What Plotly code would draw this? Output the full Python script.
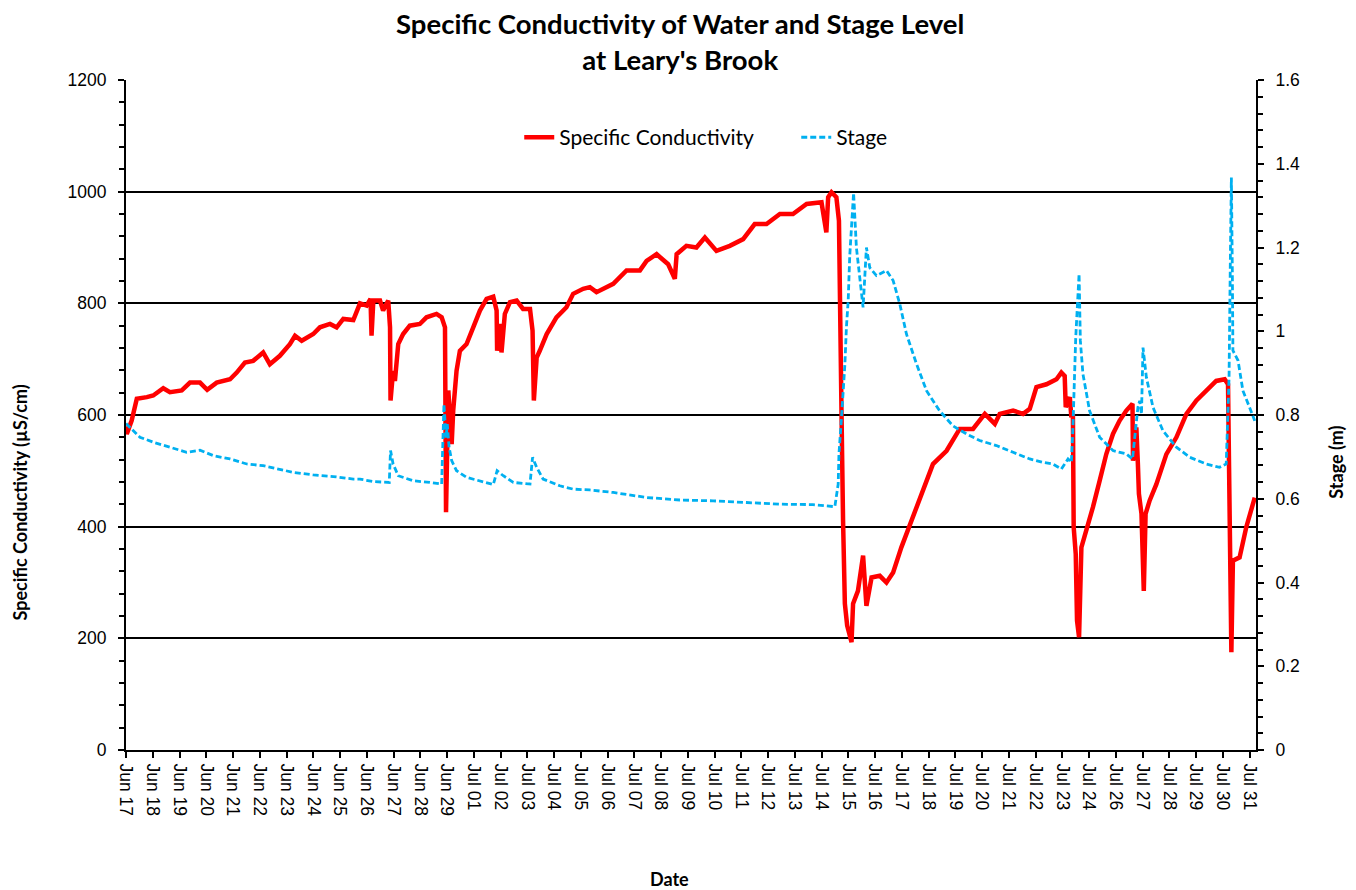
import plotly.graph_objects as go
import pandas as pd

# Time of each reading, in days after Jun 17 00:00
cond_days = [0.48, 0.51, 0.70, 0.90, 1.29, 1.54, 1.93, 2.19, 2.65, 2.97, 3.36, 3.64, 4.01, 4.53,
             4.79, 5.11, 5.43, 5.82, 6.08, 6.47, 6.86, 7.06, 7.32, 7.77, 8.03, 8.42, 8.68, 8.94,
             9.33, 9.59, 9.85, 10.00, 10.04, 10.11, 10.37, 10.49, 10.69, 10.76, 10.78, 10.88,
             10.95, 11.08, 11.27, 11.53, 11.92, 12.18, 12.57, 12.77, 12.90, 12.94, 13.03, 13.16,
             13.22, 13.35, 13.48, 13.74, 14.00, 14.26, 14.52, 14.78, 14.91, 14.93, 15.04, 15.10,
             15.23, 15.43, 15.69, 15.94, 16.21, 16.31, 16.36, 16.47, 16.59, 16.86, 17.24, 17.63,
             17.89, 18.28, 18.54, 18.80, 19.45, 19.97, 20.49, 20.75, 21.14, 21.59, 21.85, 21.92,
             22.30, 22.69, 23.02, 23.47, 23.99, 24.51, 24.96, 25.42, 25.94, 26.45, 26.98, 27.56,
             27.75, 27.82, 27.95, 28.14, 28.24, 28.27, 28.34, 28.40, 28.47, 28.56, 28.73, 28.79,
             28.98, 29.18, 29.31, 29.51, 29.83, 30.09, 30.35, 30.67, 31.00, 31.39, 31.90, 32.43,
             32.94, 33.46, 33.92, 34.31, 34.50, 35.02, 35.41, 35.67, 35.93, 36.32, 36.71, 36.90,
             37.03, 37.07, 37.23, 37.29, 37.35, 37.38, 37.46, 37.51, 37.59, 37.68, 37.88, 38.13,
             38.39, 38.65, 38.91, 39.17, 39.43, 39.67, 39.69, 39.82, 39.88, 39.92, 40.02, 40.11,
             40.18, 40.34, 40.60, 40.99, 41.38, 41.77, 42.16, 42.55, 42.93, 43.26, 43.39, 43.43,
             43.48, 43.52, 43.58, 43.84, 44.10, 44.43]
conductivity = [580, 566, 590, 629, 632, 635, 648, 641, 644, 658, 658, 645, 658, 664,
                676, 694, 697, 712, 691, 706, 727, 742, 733, 745, 757, 763, 757, 772,
                770, 800, 796, 808, 742, 805, 805, 787, 805, 757, 626, 679,
                661, 727, 745, 760, 763, 775, 781, 775, 757, 426, 644, 548,
                608, 679, 715, 727, 757, 787, 808, 812, 787, 715, 763, 712,
                781, 802, 805, 790, 790, 751, 626, 703, 715, 745, 775, 793,
                817, 826, 829, 820, 835, 859, 859, 876, 888, 870, 844, 888,
                903, 900, 918, 894, 903, 915, 942, 942, 960, 960, 978, 981,
                927, 990, 999, 990, 948, 799, 602, 411, 262, 223, 193, 262,
                285, 348, 258, 309, 312, 300, 318, 363, 402, 450, 512, 536,
                575, 575, 602, 584, 602, 608, 602, 611, 650, 655, 664, 676,
                670, 614, 632, 596, 602, 399, 351, 232, 202, 363, 393, 435,
                482, 530, 566, 590, 608, 620, 518, 578, 512, 459, 423, 285,
                423, 447, 476, 530, 560, 602, 626, 644, 661, 664, 655, 506,
                339, 175, 339, 345, 399, 452]

stage_days = [0.48, 0.51, 1.02, 1.54, 2.19, 2.84, 3.36, 3.88, 4.53, 5.18, 5.82, 6.47, 6.99, 7.77,
              8.55, 9.33, 9.59, 10.11, 10.73, 10.78, 10.88, 11.08, 11.66, 12.31, 12.77, 12.86,
              12.94, 12.99, 13.06, 13.16, 13.35, 13.74, 14.26, 14.78, 14.93, 15.17, 15.56, 16.21,
              16.31, 16.47, 16.72, 17.37, 17.89, 18.54, 19.45, 20.75, 22.04, 23.34, 24.64, 25.94,
              27.23, 28.08, 28.21, 28.24, 28.34, 28.47, 28.53, 28.60, 28.66, 28.77, 28.81, 28.92,
              29.05, 29.18, 29.31, 29.44, 29.70, 30.09, 30.35, 30.61, 30.87, 31.26, 31.65, 32.16,
              32.68, 33.20, 33.72, 34.37, 35.02, 35.67, 36.19, 36.57, 36.90, 37.16, 37.29, 37.35,
              37.46, 37.55, 37.59, 37.64, 37.74, 38.00, 38.39, 38.91, 39.43, 39.67, 39.76, 39.88,
              39.95, 40.02, 40.08, 40.21, 40.47, 40.86, 41.38, 41.90, 42.55, 43.06, 43.32, 43.43,
              43.48, 43.52, 43.56, 43.58, 43.78, 43.97, 44.23, 44.43]
stage = [0.780, 0.778, 0.747, 0.735, 0.723, 0.711, 0.716, 0.703, 0.695, 0.683, 0.679, 0.671, 0.663, 0.657,
         0.653, 0.647, 0.647, 0.641, 0.639, 0.715, 0.683, 0.655, 0.643, 0.639, 0.635, 0.826,
         0.746, 0.778, 0.723, 0.691, 0.667, 0.651, 0.643, 0.634, 0.667, 0.655, 0.639, 0.635,
         0.699, 0.675, 0.647, 0.631, 0.623, 0.621, 0.615, 0.603, 0.597, 0.595, 0.591, 0.587,
         0.586, 0.581, 0.635, 0.707, 0.794, 0.920, 1.009, 1.073, 1.180, 1.300, 1.330, 1.200,
         1.121, 1.057, 1.200, 1.152, 1.133, 1.145, 1.121, 1.065, 0.993, 0.922, 0.858, 0.810,
         0.774, 0.755, 0.739, 0.727, 0.711, 0.695, 0.687, 0.683, 0.671, 0.695, 0.687, 0.770,
         0.985, 1.073, 1.137, 0.977, 0.898, 0.810, 0.747, 0.715, 0.707, 0.695, 0.755, 0.818,
         0.834, 0.802, 0.961, 0.890, 0.818, 0.762, 0.723, 0.699, 0.683, 0.675, 0.683, 0.890,
         1.168, 1.367, 1.129, 0.954, 0.930, 0.858, 0.818, 0.786]

start = pd.Timestamp("2010-06-17")
cond_time = start + pd.to_timedelta(cond_days, unit="D")
stage_time = start + pd.to_timedelta(stage_days, unit="D")

fig = go.Figure()

fig.add_trace(
    go.Scatter(
        x=cond_time,
        y=conductivity,
        name="Specific Conductivity",
        mode="lines",
        line=dict(color="#FF0000", width=4.5)
    )
)

fig.add_trace(
    go.Scatter(
        x=stage_time,
        y=stage,
        name="Stage",
        mode="lines",
        yaxis="y2",
        line=dict(color="#00B0F0", width=2.8, dash="6px,3px")
    )
)

title_font = "Lato, Carlito, Calibri, sans-serif"
tick_font = dict(family="Liberation Sans, Arial, sans-serif", size=17.5, color="black")
label_font = dict(family=title_font, size=18, color="black")

# the page body adds an 8px margin, so the figure is 8px smaller than the window
fig.update_layout(
    width=1348,
    height=882,
    paper_bgcolor="white",
    plot_bgcolor="white",
    margin=dict(l=118, r=100, t=72, b=140),
    showlegend=True,
    legend=dict(
        orientation="h",
        x=0.348, xanchor="left",
        y=0.914, yanchor="middle",
        entrywidth=232,
        font=dict(family=title_font, size=21, color="black"),
        bgcolor="rgba(0,0,0,0)"
    ),
    xaxis=dict(
        type="date",
        automargin=False,
        range=["2010-06-17 11:30", "2010-07-31 11:30"],
        tick0="2010-06-17 11:30",
        dtick=25 * 3600 * 1000,
        tickformat="%b %d",
        tickangle=90,
        tickfont=tick_font,
        ticks="outside",
        ticklen=6,
        tickwidth=1.5,
        tickcolor="black",
        ticklabelstandoff=2,
        showline=True,
        linecolor="black",
        linewidth=2,
        showgrid=False,
        zeroline=False
    ),
    yaxis=dict(
        automargin=False,
        range=[0, 1200],
        dtick=200,
        tickfont=tick_font,
        ticks="outside",
        ticklen=6,
        tickwidth=1.5,
        tickcolor="black",
        ticklabelstandoff=8,
        showline=True,
        linecolor="black",
        linewidth=2,
        showgrid=True,
        gridcolor="black",
        gridwidth=1.5,
        zeroline=False,
        minor=dict(dtick=40, ticks="outside", ticklen=5, tickwidth=1.5, tickcolor="black")
    ),
    yaxis2=dict(
        automargin=False,
        range=[0, 1.6],
        dtick=0.2,
        overlaying="y",
        side="right",
        tickfont=tick_font,
        ticks="outside",
        ticklen=6,
        tickwidth=1.5,
        tickcolor="black",
        ticklabelstandoff=8,
        showline=True,
        linecolor="black",
        linewidth=2,
        showgrid=False,
        zeroline=False,
        minor=dict(dtick=0.04, ticks="outside", ticklen=5, tickwidth=1.5, tickcolor="black")
    ),
    annotations=[
        dict(text="<b>Specific Conductivity of Water and Stage Level<br>at Leary's Brook</b>",
             xref="paper", yref="paper", x=0.490, y=1.058,
             xanchor="center", yanchor="middle", showarrow=False,
             font=dict(family=title_font, size=27.5, color="black")),
        dict(text="<b>Specific Conductivity (µS/cm)</b>", textangle=-90,
             xref="paper", yref="paper", x=-0.094, y=0.369,
             xanchor="center", yanchor="middle", showarrow=False, font=label_font),
        dict(text="<b>Stage (m)</b>", textangle=-90,
             xref="paper", yref="paper", x=1.07, y=0.429,
             xanchor="center", yanchor="middle", showarrow=False, font=label_font),
        dict(text="<b>Date</b>",
             xref="paper", yref="paper", x=0.481, y=-0.192,
             xanchor="center", yanchor="middle", showarrow=False, font=label_font)
    ]
)

fig.write_html("out.html")
